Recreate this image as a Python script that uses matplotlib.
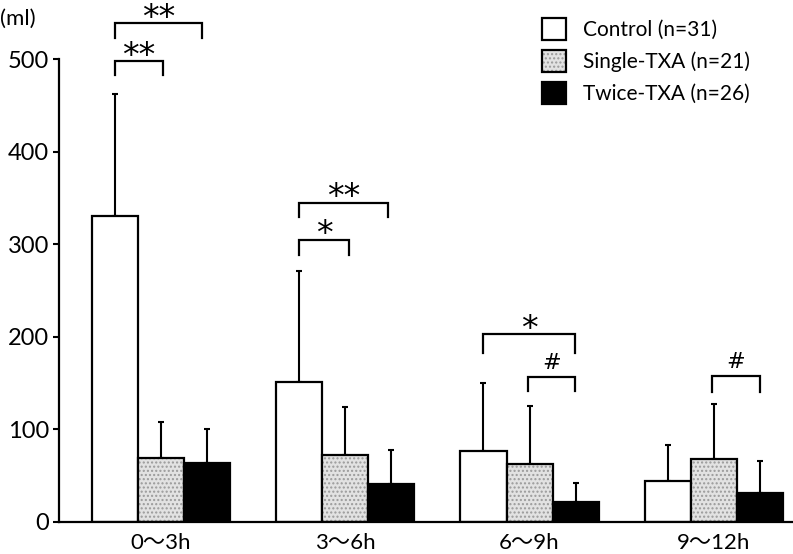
import numpy as np
import matplotlib.pyplot as plt
from matplotlib.patches import Patch

plt.rcParams['font.family'] = ['Lato', 'Noto Sans CJK JP', 'DejaVu Sans']

periods = ['0〜3h', '3〜6h', '6〜9h', '9〜12h']
groups = ['Control (n=31)', 'Single-TXA (n=21)', 'Twice-TXA (n=26)']
means = {
    'control': [331, 151, 77, 44],
    'single': [69, 72, 63, 68],
    'twice': [64, 41, 22, 31],
}
err_tops = {
    'control': [462, 271, 150, 83],
    'single': [108, 124, 125, 128],
    'twice': [101, 78, 42, 66],
}
# significance brackets: (group index, left offset, right offset, y top, leg bottom, label)
brackets = [
    (0, -0.25, 0.01, 498, 483, '**'),
    (0, -0.25, 0.22, 539, 523, '**'),
    (1, -0.25, 0.02, 305, 289, '*'),
    (1, -0.25, 0.23, 345, 330, '**'),
    (2, -0.25, 0.245, 203, 183, '*'),
    (2, -0.01, 0.245, 157, 142, '#'),
    (3, -0.01, 0.25, 158, 141, '#'),
]

fig = plt.figure(figsize=(7.93, 5.54), dpi=100)
ax = fig.add_axes([59 / 793, 32 / 554, 734 / 793, 522 / 554])

x = np.arange(len(periods))
w = 0.25
lw = 1.6
hatch_face = '#e2e2e2'
hatch_col = '#9a9a9a'

keys = ['control', 'single', 'twice']
for i, k in enumerate(keys):
    xs = x + (i - 1) * w
    vals = np.array(means[k])
    sd = np.array(err_tops[k]) - vals
    ax.errorbar(xs, vals, yerr=[np.zeros_like(sd), sd], fmt='none', ecolor='black',
                elinewidth=1.5, capsize=2.5, capthick=1.5, zorder=1)
    if k == 'control':
        ax.bar(xs, vals, w, color='white', edgecolor='black', linewidth=lw, zorder=2)
    elif k == 'single':
        ax.bar(xs, vals, w, color=hatch_face, edgecolor=hatch_col, hatch='....', linewidth=0, zorder=2)
        ax.bar(xs, vals, w, fill=False, edgecolor='black', linewidth=lw, zorder=3)
    else:
        ax.bar(xs, vals, w, color='black', edgecolor='black', linewidth=lw, zorder=2)

for g, l, r, yt, yb, lab in brackets:
    x0, x1 = g + l, g + r
    ax.plot([x0, x0, x1, x1], [yb, yt, yt, yb], color='black', lw=1.6,
            solid_joinstyle='miter', zorder=4)
    if lab == '#':
        ax.text((x0 + x1) / 2, yt + 4, lab, ha='center', va='bottom', fontsize=16,
                family='DejaVu Sans')
    else:
        ax.text((x0 + x1) / 2, yt - 5, lab, ha='center', va='baseline', fontsize=24,
                family='DejaVu Sans')

ax.set_xlim(-0.554, 3.43)
ax.set_ylim(0, 564)
ax.set_yticks([0, 100, 200, 300, 400, 500])
ax.set_xticks(x)
ax.set_xticklabels(periods, fontsize=16)
ax.tick_params(axis='x', length=0, pad=8)
ax.tick_params(axis='y', direction='out', length=4, width=1.5, labelsize=17, pad=3)
for s in ['top', 'right']:
    ax.spines[s].set_visible(False)
ax.spines['left'].set_bounds(0, 500)
ax.spines['left'].set_linewidth(1.6)
ax.spines['bottom'].set_linewidth(1.6)

fig.text(0 / 793, 1 - 19 / 554, '(ml)', fontsize=16, va='center', ha='left')

h_control = Patch(facecolor='white', edgecolor='black', linewidth=lw)
h_single = (Patch(facecolor=hatch_face, edgecolor=hatch_col, hatch='....', linewidth=0),
            Patch(fill=False, edgecolor='black', linewidth=lw))
h_twice = Patch(facecolor='black', edgecolor='black', linewidth=lw)
fig.legend([h_control, h_single, h_twice], groups, loc='upper left',
           bbox_to_anchor=(527 / 793, 1 - 3 / 554), frameon=False, fontsize=15,
           handlelength=1.15, handleheight=1.3, labelspacing=0.45, handletextpad=0.85,
           borderpad=0.2)

fig.savefig('out.png', dpi=100)
